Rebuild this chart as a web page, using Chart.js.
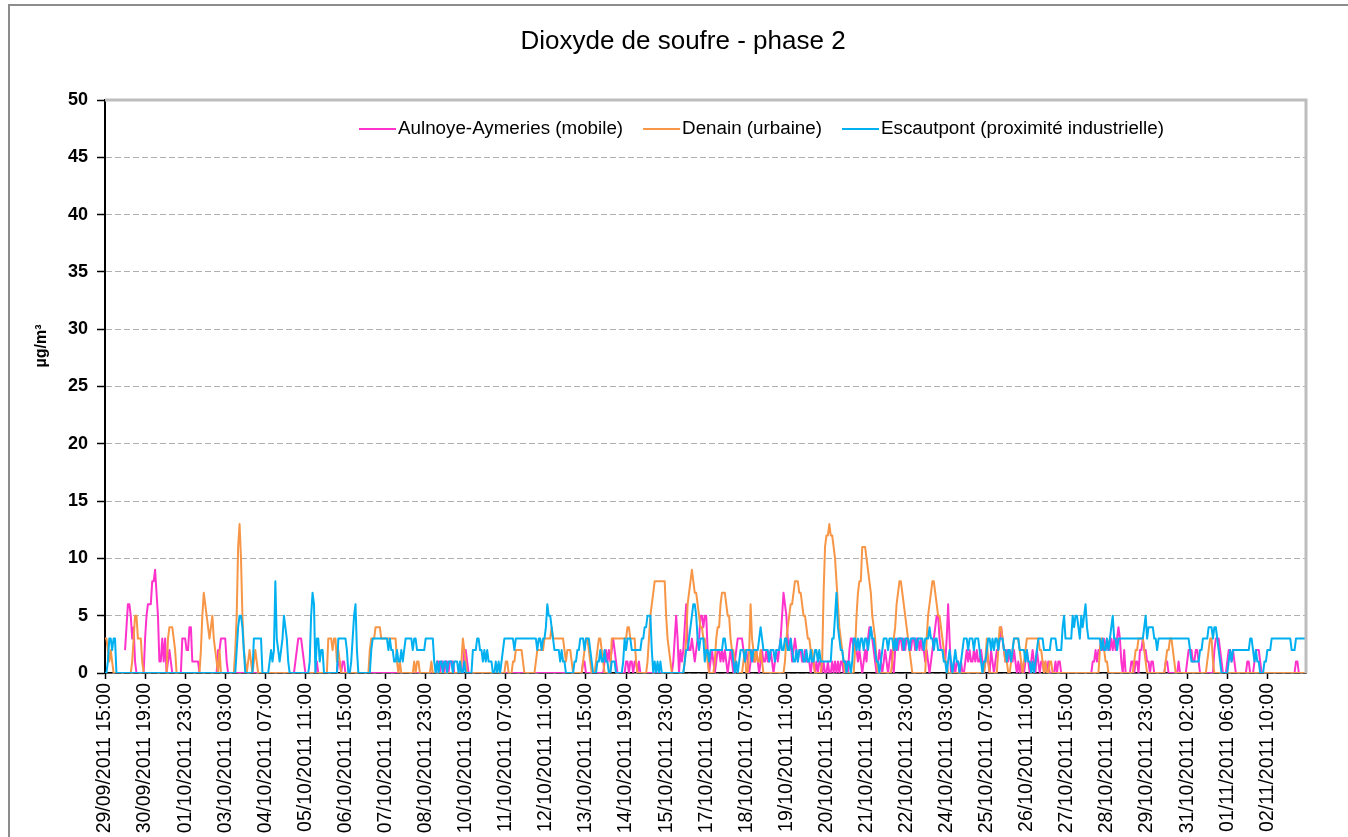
<!DOCTYPE html>
<html lang="fr">
<head>
<meta charset="utf-8">
<title>Dioxyde de soufre - phase 2</title>
<script src="https://cdn.jsdelivr.net/npm/chart.js@4.4.1/dist/chart.umd.min.js"></script>
<style>
  html, body { margin: 0; padding: 0; background: #fff; overflow: hidden; }
  canvas { display: block; }
</style>
</head>
<body>
<canvas id="chart" width="1348" height="837"></canvas>
<script>
// Concentrations horaires de SO2 (µg/m³), une valeur par heure à partir du 29/09/2011 15:00
const AULNOYE = [
  null,null,null,null,null,null,null,null,null,null,null,null,null,null,2,4,6,6,5,3,
  4,1,0,0,0,0,0,0,3,5,6,6,6,8,8,9,7,5,1,1,
  3,1,3,0,1,2,1,0,0,0,0,0,0,0,3,3,3,2,2,4,
  4,1,1,1,1,1,0,0,0,0,0,0,0,0,0,0,0,0,0,2,
  2,3,3,3,3,1,0,0,0,0,0,0,0,0,0,0,0,0,0,0,
  0,0,0,0,0,0,0,0,0,0,0,0,0,0,0,0,0,0,0,0,
  0,0,0,0,0,0,0,0,0,0,0,0,0,1,2,3,3,3,2,1,
  0,0,0,0,0,0,0,0,1,0,0,0,0,0,0,0,0,0,0,0,
  0,0,0,1,1,0,1,1,0,0,0,0,0,0,0,0,0,0,0,0,
  0,0,0,0,0,0,0,0,0,0,0,0,0,0,0,0,0,0,0,0,
  0,0,0,0,0,0,0,0,0,0,0,0,0,0,0,0,0,0,0,0,
  0,0,0,0,0,0,0,0,0,0,0,0,1,1,0,1,1,0,1,1,
  0,1,1,1,0,0,0,0,0,0,0,2,2,1,0,0,0,0,0,0,
  0,0,0,0,0,0,0,0,0,0,0,0,0,0,0,0,0,0,0,0,
  0,0,0,0,0,0,0,0,0,0,0,0,0,0,0,0,0,0,0,0,
  0,0,0,0,0,0,0,0,0,0,0,0,0,0,0,0,0,0,0,0,
  0,0,0,0,0,0,0,0,0,0,0,0,0,0,1,1,0,0,0,0,
  0,0,0,0,0,0,0,0,0,1,2,1,2,1,2,3,2,1,0,0,
  0,0,0,0,1,1,0,1,1,0,1,1,0,1,0,0,0,0,0,0,
  0,0,0,0,0,0,0,0,0,0,0,0,0,0,0,0,0,1,3,5,
  3,0,2,1,2,4,6,3,2,2,3,2,1,2,3,3,5,5,4,5,
  5,2,0,1,2,1,0,1,2,2,1,2,1,2,1,0,1,2,1,0,
  1,2,3,3,3,3,2,1,2,1,0,1,2,1,1,2,1,0,1,2,
  1,1,2,1,1,2,1,0,1,2,1,2,3,5,7,6,5,3,2,3,
  1,2,3,2,1,2,2,1,1,2,1,1,1,0,1,1,0,1,0,1,
  1,0,1,0,0,1,0,0,1,0,1,0,1,0,1,1,0,1,1,0,
  2,3,3,2,3,2,1,2,1,0,1,2,1,3,4,4,3,2,1,0,
  1,2,1,0,1,2,1,0,1,2,1,0,2,3,2,3,3,2,3,2,
  3,3,2,2,3,3,2,3,3,2,3,2,2,1,2,1,0,1,2,3,
  4,5,5,3,2,2,2,1,3,6,3,0,0,1,0,1,1,0,1,0,
  0,1,2,1,2,1,1,2,1,2,1,1,2,1,0,1,2,1,0,2,
  1,0,1,2,2,3,4,3,2,1,2,1,2,1,1,2,1,0,1,0,
  1,0,0,1,2,1,0,1,2,1,0,2,1,0,1,1,0,1,0,1,
  0,0,0,0,1,0,1,1,0,0,0,0,0,0,0,0,0,0,0,0,
  0,0,0,0,0,0,0,0,0,0,1,1,2,1,2,2,3,2,3,2,
  3,2,2,3,2,3,2,3,4,3,1,0,2,0,0,0,0,1,1,0,
  1,1,0,2,2,3,2,2,1,1,0,1,1,0,0,0,0,0,0,0,
  0,1,1,0,0,0,0,0,0,0,1,0,0,0,0,0,1,2,2,2,
  1,1,2,2,1,0,0,0,0,0,0,0,0,0,0,2,3,3,3,2,
  1,0,0,0,1,2,2,1,2,1,0,0,0,0,0,0,0,0,1,1,
  0,0,0,1,2,2,2,1,0,0,0,0,0,0,0,0,0,0,0,0,
  0,0,0,0,0,0,0,0,0,0,0,0,1,1,0,0,0,0,0,0
];

const DENAIN = [
  3,3,2,1,2,1,0,0,0,0,0,0,0,0,0,0,0,0,0,1,
  3,5,5,3,3,3,1,0,0,0,0,0,0,0,0,0,0,0,0,0,
  0,0,0,0,3,4,4,4,3,2,0,0,0,0,0,0,0,0,0,0,
  0,0,0,0,0,0,0,2,5,7,6,5,4,3,4,5,3,2,1,0,
  2,0,0,0,0,0,0,0,0,0,0,2,5,11,13,10,5,2,1,0,
  1,2,1,0,1,2,1,0,0,0,0,0,0,0,0,0,0,0,0,0,
  0,0,0,0,0,0,0,0,0,0,0,0,0,0,0,0,0,0,0,0,
  0,0,0,0,0,0,0,0,0,0,0,0,0,0,0,0,3,3,3,2,
  3,3,1,2,1,0,0,0,0,0,0,0,0,0,0,0,0,0,0,0,
  0,0,0,0,0,2,3,3,3,4,4,4,4,3,3,3,3,3,3,3,
  3,3,3,3,1,0,1,0,0,0,0,0,0,0,0,0,1,0,1,1,
  0,0,0,0,0,0,0,0,1,0,0,0,0,0,0,0,0,0,0,0,
  0,0,0,0,0,0,0,0,0,1,3,2,1,0,0,0,0,0,0,0,
  0,0,0,0,0,0,0,0,0,0,0,0,0,0,0,0,0,0,0,0,
  1,1,0,0,0,1,1,2,2,2,2,2,1,0,0,0,0,0,0,0,
  0,1,2,2,2,2,2,3,3,3,3,3,4,3,3,3,3,3,3,3,
  3,2,1,2,2,2,1,0,0,0,0,0,0,0,1,2,3,3,2,1,
  0,0,0,1,2,3,3,2,1,0,0,0,0,0,3,3,3,3,3,3,
  3,3,3,3,3,4,4,3,3,3,3,1,0,0,0,0,0,0,0,1,
  3,5,6,7,8,8,8,8,8,8,8,8,5,3,2,1,0,0,0,0,
  0,0,0,0,0,1,3,6,7,8,9,8,7,7,6,5,4,4,3,3,
  2,1,0,0,0,0,1,3,4,4,6,7,7,7,6,5,5,3,2,2,
  1,1,0,0,0,0,1,2,0,0,2,6,3,2,1,2,1,1,2,1,
  0,0,0,0,0,0,0,0,0,0,0,0,0,0,0,1,3,4,5,6,
  6,7,8,8,8,7,7,6,5,5,4,3,3,2,2,1,0,0,0,0,
  0,1,7,11,12,12,13,12,12,11,10,8,6,4,3,2,1,0,0,0,
  0,0,0,0,2,5,7,8,8,11,11,11,10,9,8,7,5,4,3,1,
  0,0,0,0,0,0,0,0,0,0,1,3,4,6,7,8,8,7,6,5,
  4,3,2,1,0,0,0,0,0,0,0,0,0,0,3,5,6,7,8,8,
  7,6,5,5,4,3,2,1,1,0,0,0,0,0,0,0,0,0,0,0,
  0,0,0,0,0,0,0,0,0,0,0,0,0,0,0,1,3,1,0,0,
  0,0,0,0,2,4,4,3,2,1,1,0,0,1,2,3,3,3,3,2,
  1,0,1,2,3,3,3,3,3,3,3,3,3,2,2,1,0,1,0,0,
  1,1,0,0,0,0,0,0,0,0,0,0,0,0,0,0,0,0,0,0,
  0,0,0,0,0,0,0,0,0,0,0,0,0,0,0,2,3,3,2,1,
  1,0,0,0,0,0,0,0,0,0,0,0,0,0,0,0,0,0,0,1,
  2,2,3,3,3,3,2,1,0,0,0,0,0,0,0,0,0,0,0,0,
  0,1,2,2,3,3,2,1,0,0,0,0,0,0,0,0,0,0,0,0,
  0,0,0,0,0,0,0,0,0,0,1,2,3,3,1,0,0,0,0,0,
  0,0,0,0,0,0,0,0,0,0,0,0,0,0,0,0,0,0,0,0,
  0,0,0,0,0,0,0,0,0,0,0,0,0,0,0,0,0,0,0,0,
  0,0,0,0,0,0,0,0,0,0,0,0,0,0,0,0,0,0,0,0
];

const ESCAUTPONT = [
  0,0,1,3,3,2,3,3,0,0,0,0,0,0,0,0,0,0,0,0,
  0,0,0,0,0,0,0,0,0,0,0,0,0,0,0,0,0,0,0,0,
  0,0,0,0,0,0,0,0,0,0,0,0,0,0,0,0,0,0,0,0,
  0,0,0,0,0,0,0,0,0,0,0,0,0,0,0,0,0,0,0,0,
  0,0,0,0,0,0,0,0,0,0,0,0,2,4,5,5,4,2,0,0,
  0,0,0,0,3,3,3,3,3,3,0,0,0,0,0,1,2,1,2,8,
  3,2,1,2,3,5,4,3,1,0,0,0,0,0,0,0,0,0,0,0,
  0,0,0,1,5,7,6,0,3,3,1,2,2,0,0,0,0,0,0,0,
  0,0,0,3,3,3,3,3,3,2,0,0,1,3,5,6,2,0,0,0,
  0,0,0,0,0,0,2,3,3,3,3,3,3,3,3,3,3,3,2,3,
  2,2,1,1,2,1,1,2,1,2,3,3,3,3,3,2,3,3,2,2,
  2,2,2,2,3,3,3,3,3,3,1,0,1,0,1,1,0,1,1,0,
  1,1,1,0,1,1,1,0,1,0,0,1,0,0,0,0,0,2,2,2,
  3,3,2,2,1,2,1,2,1,1,1,0,0,1,0,1,0,1,2,3,
  3,3,3,3,3,3,2,3,3,3,3,3,3,3,3,3,3,3,3,3,
  3,3,2,3,3,2,3,3,4,6,5,5,4,3,2,2,2,2,1,2,
  1,1,0,0,0,0,0,0,1,1,2,2,3,3,3,2,3,3,3,2,
  1,0,0,0,1,1,2,1,1,2,1,1,0,0,1,1,1,0,0,0,
  0,0,1,3,2,3,3,3,2,2,2,2,2,2,2,3,3,4,4,5,
  5,5,2,0,1,0,1,0,1,0,0,0,0,0,0,0,0,0,0,0,
  0,0,0,0,0,1,2,2,3,4,5,6,6,5,3,2,3,3,3,1,
  2,2,1,2,2,2,2,2,2,2,2,2,3,3,2,2,2,2,2,1,
  0,1,0,1,2,2,2,1,2,2,2,2,1,2,2,2,2,3,4,3,
  2,2,2,2,1,2,2,2,1,2,2,2,3,2,2,3,3,2,2,3,
  2,1,1,2,1,2,2,2,1,1,2,1,1,2,1,1,2,2,1,2,
  1,1,1,1,1,1,1,1,3,3,5,7,4,3,2,2,1,1,0,1,
  1,0,1,3,3,2,3,2,3,3,2,3,3,2,3,4,3,3,2,1,
  1,0,1,2,3,3,3,2,3,3,3,2,3,2,3,3,3,3,2,3,
  3,3,2,3,3,3,3,2,3,3,3,3,2,3,3,3,4,3,3,2,
  3,3,2,2,2,2,1,1,0,1,2,1,0,1,2,1,1,0,1,2,
  3,3,3,2,3,3,3,2,3,3,3,2,1,0,1,1,2,3,3,2,
  3,2,3,3,2,3,3,3,2,2,1,2,2,1,2,3,3,3,3,2,
  2,2,2,1,2,1,1,0,1,0,1,2,3,3,3,3,2,2,2,2,
  2,3,3,3,3,2,2,2,2,4,5,3,3,3,3,3,5,4,5,5,
  4,3,5,4,5,6,4,3,3,3,3,3,3,3,3,3,2,3,2,2,
  3,2,3,4,5,3,3,2,3,3,3,3,3,3,3,3,3,3,3,3,
  3,3,3,3,3,3,4,5,3,4,4,4,4,3,3,2,3,3,3,3,
  3,3,3,3,3,3,3,3,3,3,3,3,3,3,3,3,3,3,2,1,
  1,1,1,1,1,2,2,3,3,3,3,4,4,4,3,4,4,3,2,1,
  0,0,0,0,0,1,2,1,2,2,2,2,2,2,2,2,2,2,2,2,
  3,3,2,1,2,1,1,0,0,0,1,1,2,2,2,3,3,3,3,3,
  3,3,3,3,3,3,3,3,3,2,2,2,3,3,3,3,3,3,3,3
];

const SERIES_NAMES = [
  'Aulnoye-Aymeries (mobile)',
  'Denain (urbaine)',
  'Escautpont (proximité industrielle)'
];
const SERIES_COLORS = ['#ff33cc', '#f79646', '#00b0f0'];
const TITLE = 'Dioxyde de soufre - phase 2';
const Y_TITLE = 'µg/m³';
const Y_MIN = 0, Y_MAX = 50, Y_STEP = 5;
const TICK_STEP = 28; // one date label every 28 hours

// Hourly categories, local French time (summer time ends 30/10/2011 at 03:00)
const START_UTC = Date.UTC(2011, 8, 29, 13);
const DST_END_UTC = Date.UTC(2011, 9, 30, 1);
const pad2 = n => String(n).padStart(2, '0');
const HOURS = AULNOYE.map((_, i) => {
  const t = START_UTC + i * 3600e3;
  const d = new Date(t + (t < DST_END_UTC ? 2 : 1) * 3600e3);
  return pad2(d.getUTCDate()) + '/' + pad2(d.getUTCMonth() + 1) + '/' + d.getUTCFullYear() +
         ' ' + pad2(d.getUTCHours()) + ':00';
});

const FONT = '"Liberation Sans", Arial, Helvetica, sans-serif';

// Frame, plot border, title, axis title and in-plot legend
const decor = {
  id: 'decor',
  beforeDraw(chart) {
    const c = chart.ctx;
    c.save();
    c.fillStyle = '#fff';
    c.fillRect(0, 0, chart.width, chart.height);
    c.strokeStyle = '#8c8c8c';
    c.lineWidth = 2;
    c.strokeRect(9, 5, 1370, 900);
    c.restore();
  },
  afterDraw(chart) {
    const c = chart.ctx, a = chart.chartArea;
    c.save();
    c.strokeStyle = '#bdbdbd';
    c.lineWidth = 3;
    c.beginPath();
    c.moveTo(a.left, a.top);
    c.lineTo(a.right, a.top);
    c.lineTo(a.right, a.bottom);
    c.stroke();

    c.fillStyle = '#000';
    c.font = '26px ' + FONT;
    c.textAlign = 'center';
    c.textBaseline = 'alphabetic';
    c.fillText(TITLE, 683, 49);

    c.save();
    c.translate(42, 346);
    c.rotate(-Math.PI / 2);
    c.font = 'bold 16px ' + FONT;
    c.textAlign = 'center';
    c.textBaseline = 'middle';
    c.fillText(Y_TITLE, 0, 0);
    c.restore();

    c.font = '18.8px ' + FONT;
    c.textAlign = 'left';
    c.textBaseline = 'middle';
    let x = 359;
    const y = 129;
    chart.data.datasets.forEach(ds => {
      c.strokeStyle = ds.borderColor;
      c.lineWidth = 2;
      c.beginPath();
      c.moveTo(x, y);
      c.lineTo(x + 37, y);
      c.stroke();
      c.fillStyle = '#000';
      c.fillText(ds.label, x + 39, y);
      x += 39 + c.measureText(ds.label).width + 20;
    });
    c.restore();
  }
};

const seriesData = [AULNOYE, DENAIN, ESCAUTPONT];

new Chart(document.getElementById('chart'), {
  type: 'line',
  data: {
    labels: HOURS,
    datasets: seriesData.map((values, k) => ({
      label: SERIES_NAMES[k],
      data: values,
      borderColor: SERIES_COLORS[k],
      backgroundColor: SERIES_COLORS[k],
      borderWidth: 2,
      pointRadius: 0,
      tension: 0,
      fill: false,
      spanGaps: false,
      borderJoinStyle: 'round',
      order: 2 - k
    }))
  },
  options: {
    responsive: false,
    devicePixelRatio: 1,
    animation: false,
    events: [],
    layout: { padding: { left: 10, right: 42, top: 100, bottom: 0 } },
    plugins: {
      legend: { display: false },
      title: { display: false },
      tooltip: { enabled: false }
    },
    scales: {
      x: {
        type: 'category',
        ticks: {
          autoSkip: false,
          minRotation: 90,
          maxRotation: 90,
          color: '#000',
          padding: 4,
          font: { family: FONT, size: 19.5 }
        },
        grid: {
          drawOnChartArea: false,
          tickColor: '#000',
          tickLength: 6,
          tickWidth: 1.5
        },
        border: { color: '#000', width: 1.5 },
        afterBuildTicks(scale) {
          scale.ticks = scale.ticks.filter(t => t.value % TICK_STEP === 0);
        },
        afterFit(scale) { scale.height = 164; }
      },
      y: {
        min: Y_MIN,
        max: Y_MAX,
        ticks: {
          stepSize: Y_STEP,
          color: '#000',
          padding: 9,
          font: { family: FONT, size: 18, weight: 'bold' }
        },
        grid: {
          color: '#b0b0b0',
          lineWidth: 1,
          tickColor: '#000',
          tickLength: 8,
          tickWidth: 1.5
        },
        border: { color: '#000', width: 2, dash: [6, 3] },
        afterFit(scale) { scale.width = 95; }
      }
    }
  },
  plugins: [decor]
});
</script>
</body>
</html>
